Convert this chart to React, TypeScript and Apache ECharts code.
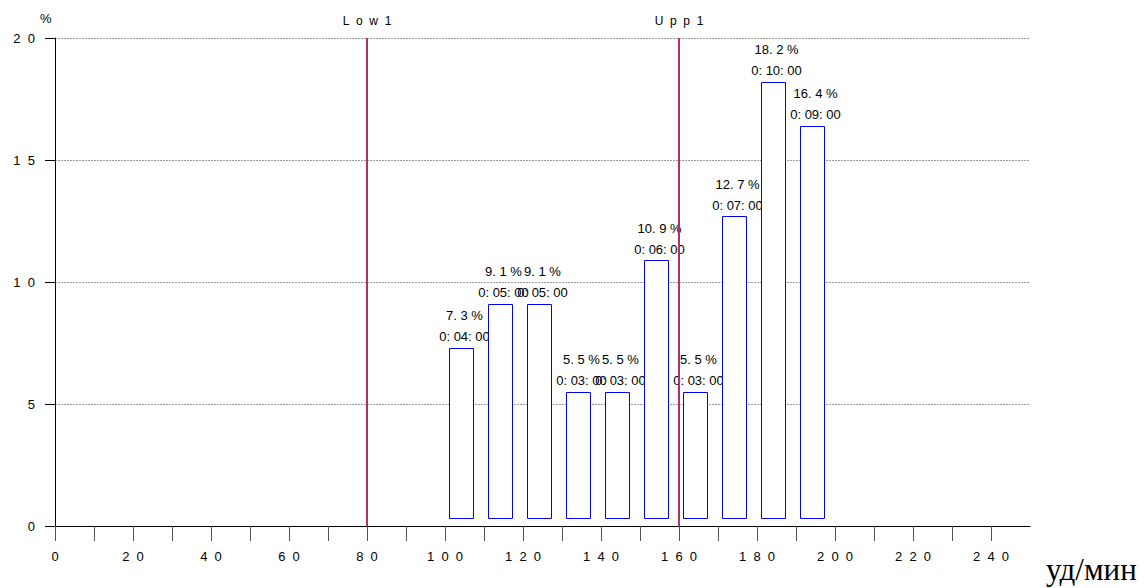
import React, { useEffect, useRef } from "react";
import * as echarts from "echarts";

// ---- data ----
const BIN_START = [100, 110, 120, 130, 140, 150, 160, 170, 180, 190];
const PERCENT = [7.3, 9.1, 9.1, 5.5, 5.5, 10.9, 5.5, 12.7, 18.2, 16.4];
const DURATION = [
  "0:04:00", "0:05:00", "0:05:00", "0:03:00", "0:03:00",
  "0:06:00", "0:03:00", "0:07:00", "0:10:00", "0:09:00",
];
const LIMIT_NAMES = ["Low1", "Upp1"];
const LIMIT_VALUES = [80, 160];
const X_UNIT = "уд/мин";
const Y_UNIT = "%";

const FONT = '"Liberation Sans", Arial, Helvetica, sans-serif';
const NB = "\u00a0";
const spaced = (s: string) => s.split("").join(NB + NB);

export default function App() {
  const ref = useRef<HTMLDivElement>(null);
  useEffect(() => {
    if (!ref.current) return;
    const chart = echarts.init(ref.current, null, { renderer: "svg" });
    const barData = BIN_START.map((b, i) => [b, PERCENT[i], DURATION[i]]);
    chart.setOption({
      animation: false,
      backgroundColor: "#ffffff",
      grid: { left: 55, right: 115, top: 38, bottom: 62, containLabel: false },
      xAxis: {
        type: "value",
        min: 0,
        max: 250,
        interval: 10,
        axisLine: { show: true, lineStyle: { color: "#000", width: 1 } },
        axisTick: { show: true, inside: false, length: 15, lineStyle: { color: "#555", width: 1 } },
        splitLine: { show: false },
        axisLabel: {
          margin: 24,
          color: "#000",
          fontFamily: FONT,
          fontSize: 13,
          showMaxLabel: false,
          formatter: (v: number) => (v % 20 === 0 && v < 250 ? spaced(String(v)) : ""),
        },
      },
      yAxis: {
        type: "value",
        min: 0,
        max: 20,
        interval: 5,
        axisLine: { show: true, onZero: false, lineStyle: { color: "#000", width: 1 } },
        axisTick: { show: true, inside: false, length: 10, lineStyle: { color: "#000", width: 1 } },
        splitLine: { show: true, lineStyle: { color: "#9a9a9a", width: 1, type: [2, 1] } },
        axisLabel: {
          margin: 20,
          color: "#000",
          fontFamily: FONT,
          fontSize: 13,
          formatter: (v: number) => spaced(String(v)),
        },
      },
      graphic: [
        {
          type: "text",
          left: 40,
          top: 12,
          style: { text: Y_UNIT, font: `13px ${FONT}`, fill: "#000" },
        },
        {
          type: "text",
          left: 1046,
          top: 554,
          style: { text: X_UNIT, font: '31px "Liberation Serif", "Times New Roman", serif', fill: "#000" },
        },
      ],
      series: [
        {
          type: "custom",
          clip: false,
          data: barData,
          renderItem: (params: any, api: any) => {
            const b = api.value(0);
            const v = api.value(1);
            const i = params.dataIndex;
            const p0 = api.coord([b + 1, v]);
            const p1 = api.coord([b + 7.25, 0.33]);
            const c = api.coord([b + 5, v]);
            const x0 = Math.round(p0[0]) + 0.5;
            const y0 = Math.round(p0[1]) + 0.5;
            const x1 = Math.round(p1[0]) + 0.5;
            const y1 = Math.round(p1[1]) + 0.5;
            return {
              type: "group",
              children: [
                {
                  type: "rect",
                  shape: { x: x0, y: y0, width: x1 - x0, height: y1 - y0 },
                  style: { fill: "#ffffff", stroke: "#0000ff", lineWidth: 1 },
                },
                {
                  type: "text",
                  style: {
                    x: c[0],
                    y: c[1] - 32,
                    text: PERCENT[i].toFixed(1).replace(".", ". ") + NB + "%",
                    align: "center",
                    verticalAlign: "middle",
                    font: `13px ${FONT}`,
                    fill: "#000",
                  },
                },
                {
                  type: "text",
                  style: {
                    x: c[0],
                    y: c[1] - 11,
                    text: DURATION[i].replace(/:/g, ": "),
                    align: "center",
                    verticalAlign: "middle",
                    font: `13px ${FONT}`,
                    fill: "#000",
                  },
                },
              ],
            };
          },
          z: 2,
        },
        {
          type: "line",
          data: [],
          z: 5,
          markLine: {
            silent: true,
            symbol: "none",
            animation: false,
            lineStyle: { color: "#b03068", width: 2, type: "solid" },
            label: {
              show: true,
              position: "end",
              distance: 11,
              color: "#000",
              fontFamily: FONT,
              fontSize: 12,
              formatter: (p: any) => spaced(p.name),
            },
            data: LIMIT_VALUES.map((v, i) => ({ xAxis: v, name: LIMIT_NAMES[i] })),
          },
        },
      ],
    });
    return () => chart.dispose();
  }, []);
  return (
    <div
      ref={ref}
      style={{ position: "fixed", left: 0, top: 0, width: 1145, height: 588 }}
    />
  );
}
